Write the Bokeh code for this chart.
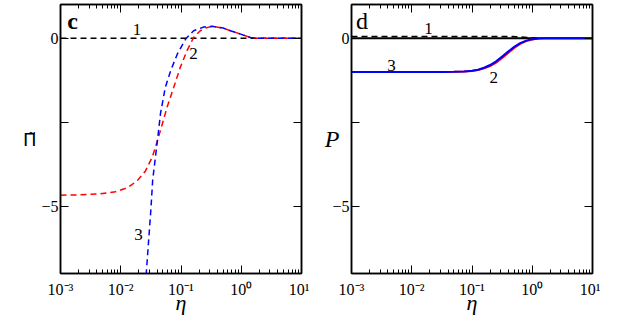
import numpy as np
from bokeh.plotting import figure
from bokeh.layouts import row
from bokeh.models import Range1d, LogAxis, LinearAxis, FixedTicker, CustomJSTickFormatter, Label
from bokeh.embed import file_html
from bokeh.resources import INLINE

# ---------------- data (log10 eta and values) ----------------
# panel c : Pi-tilde
c1_log_eta = [-3.0, 1.0]
c1_pi = [0.0, 0.0]

c2_log_eta = [-3.0, -2.67, -2.34, -2.09, -1.89, -1.73, -1.59, -1.48, -1.42, -1.34, -1.23,
              -1.12, -1.01, -0.90, -0.79, -0.68, -0.58, -0.48, -0.30, -0.18, -0.01, 0.15, 0.25, 1.0]
c2_pi = [-4.67, -4.66, -4.63, -4.57, -4.45, -4.25, -3.95, -3.55, -3.22, -2.74, -2.05,
         -1.46, -0.86, -0.37, 0.02, 0.22, 0.31, 0.35, 0.30, 0.22, 0.12, 0.02, 0.0, 0.0]

c3_log_eta = [-1.585, -1.54, -1.50, -1.47, -1.45, -1.39, -1.34, -1.26, -1.17, -1.06, -0.92,
              -0.79, -0.62, -0.48, -0.30, -0.18, -0.01, 0.15, 0.25, 1.0]
c3_pi = [-7.2, -6.09, -5.10, -4.22, -3.92, -3.03, -2.24, -1.46, -0.96, -0.47, -0.02,
         0.22, 0.33, 0.35, 0.30, 0.22, 0.12, 0.02, 0.0, 0.0]

# panel d : P
d0_log_eta = [-3.0, 1.0]
d0_p = [0.0, 0.0]

d1_log_eta = [-3.0, -0.5, -0.2, 0.0, 0.15, 1.0]
d1_p = [0.05, 0.05, 0.04, 0.01, 0.0, 0.0]

d2_log_eta = [-3.0, -2.0, -1.5, -1.3, -1.13, -1.0, -0.9, -0.8, -0.7, -0.6, -0.5, -0.4, -0.3,
              -0.2, -0.1, 0.0, 0.1, 0.2, 0.3, 1.0]
d2_p = [-1.01, -1.01, -1.005, -1.0, -0.99, -0.975, -0.95, -0.90, -0.83, -0.73, -0.59, -0.44, -0.29,
        -0.17, -0.09, -0.04, -0.013, -0.002, 0.0, 0.0]

d3_log_eta = [-3.0, -2.0, -1.5, -1.3, -1.13, -1.0, -0.9, -0.8, -0.7, -0.6, -0.5, -0.4, -0.3,
              -0.2, -0.1, 0.0, 0.1, 0.2, 0.3, 1.0]
d3_p = [-1.01, -1.01, -1.005, -1.0, -0.99, -0.97, -0.94, -0.88, -0.80, -0.69, -0.55, -0.40, -0.26,
        -0.15, -0.075, -0.03, -0.01, 0.0, 0.0, 0.0]

# curve labels (text, eta, y)
c_label_text = ["1", "2", "3"]
c_label_eta = [0.0186, 0.162, 0.0197]
c_label_y = [0.25, -0.46, -5.84]

d_label_text = ["1", "2", "3"]
d_label_eta = [0.019, 0.23, 0.0046]
d_label_y = [0.28, -1.17, -0.81]

panel_letters = ["c", "d"]
panel_letter_eta = [0.00158, 0.0015]
panel_letter_y = [0.50, 0.52]

x_tick_values = [1e-3, 1e-2, 1e-1, 1e0, 1e1]
x_tick_labels = ["10\u207b\u00b3", "10\u207b\u00b2", "10\u207b\u00b9", "10\u2070", "10\u00b9"]
y_tick_values = [-5, 0]
y_minor_values = [-2.5]

FONT = "Liberation Serif"
RED = "#ff0000"
BLUE = "#0000ff"


def eta(logs):
    return [10.0 ** v for v in logs]


x_minor = [m * 10.0 ** d for d in range(-3, 1) for m in range(2, 10)]


def make_panel(min_left, ylabel, ylabel_font, ylabel_size, ylabel_italic, ylabel_standoff):
    p = figure(x_axis_type="log", x_range=Range1d(1e-3, 10), y_range=Range1d(-7, 1),
               frame_width=241, frame_height=269, min_border_left=min_left,
               min_border_right=8, min_border_top=4, min_border_bottom=0,
               output_backend="svg", toolbar_location=None,
               background_fill_color="white", border_fill_color="white",
               outline_line_color="black", outline_line_width=1.5)
    p.xgrid.visible = False
    p.ygrid.visible = False

    xt = FixedTicker(ticks=x_tick_values, minor_ticks=x_minor)
    yt = FixedTicker(ticks=y_tick_values, minor_ticks=y_minor_values)

    xa = p.xaxis[0]
    xa.ticker = xt
    xa.formatter = CustomJSTickFormatter(args=dict(tvals=x_tick_values, tlabels=x_tick_labels), code="""
        for (let i = 0; i < tvals.length; i++) {
            if (Math.abs(Math.log10(tvals[i]) - Math.log10(tick)) < 1e-6) return tlabels[i];
        }
        return "";
    """)
    ya = p.yaxis[0]
    ya.ticker = yt

    for ax in (xa, ya):
        ax.axis_line_color = "black"
        ax.axis_line_width = 1.5
        ax.major_tick_in = 8
        ax.major_tick_out = 0
        ax.minor_tick_in = 4
        ax.minor_tick_out = 0
        ax.major_tick_line_color = "black"
        ax.minor_tick_line_color = "black"
        ax.major_label_text_font = FONT
        ax.major_label_text_font_size = "16px"
        ax.major_label_text_color = "black"
        ax.axis_label_text_color = "black"
    ya.minor_tick_in = 8
    xa.major_label_standoff = 7
    ya.major_label_standoff = 2

    xa.axis_label = "\u03b7"
    xa.axis_label_text_font = FONT
    xa.axis_label_text_font_size = "22px"
    xa.axis_label_text_font_style = "italic"
    xa.axis_label_standoff = -11

    ya.axis_label = ylabel
    ya.axis_label_text_font = ylabel_font
    ya.axis_label_text_font_size = ylabel_size
    ya.axis_label_text_font_style = "italic" if ylabel_italic else "normal"
    ya.axis_label_orientation = "horizontal"
    ya.axis_label_standoff = ylabel_standoff

    empty = CustomJSTickFormatter(code="return '';")
    top = LogAxis(ticker=xt, formatter=empty, major_label_standoff=0,
                  major_label_text_font_size="0px")
    right = LinearAxis(ticker=yt, formatter=empty, major_label_standoff=0,
                       major_label_text_font_size="0px")
    for ax in (top, right):
        ax.axis_line_color = "black"
        ax.axis_line_width = 1.5
        ax.major_tick_in = 8
        ax.major_tick_out = 0
        ax.minor_tick_in = 4
        ax.minor_tick_out = 0
        ax.major_tick_line_color = "black"
        ax.minor_tick_line_color = "black"
    right.minor_tick_in = 8
    p.add_layout(top, "above")
    p.add_layout(right, "right")
    return p


# ---------------- panel c ----------------
pc = make_panel(60, "\u03a0\u0303", "DejaVu Sans", "18px", False, 2)
pc.line(eta(c1_log_eta), c1_pi, line_color="black", line_width=1.5, line_dash="6 4")
pc.line(eta(c2_log_eta), c2_pi, line_color=RED, line_width=1.5, line_dash="6 4")
pc.line(eta(c3_log_eta), c3_pi, line_color=BLUE, line_width=1.5, line_dash="6 4",
        line_dash_offset=5)
for t, xv, yv in zip(c_label_text, c_label_eta, c_label_y):
    pc.add_layout(Label(x=xv, y=yv, text=t, text_font=FONT, text_font_size="17px",
                        text_align="center", text_baseline="middle", text_color="black"))
pc.add_layout(Label(x=panel_letter_eta[0], y=panel_letter_y[0], text=panel_letters[0],
                    text_font=FONT, text_font_size="24px", text_font_style="bold",
                    text_align="center", text_baseline="middle", text_color="black"))

# ---------------- panel d ----------------
pd_ = make_panel(42, "P", FONT, "24px", True, -10)
pd_.line(eta(d0_log_eta), d0_p, line_color="black", line_width=2)
pd_.line(eta(d1_log_eta), d1_p, line_color="black", line_width=1.5, line_dash="6 4")
pd_.line(eta(d2_log_eta), d2_p, line_color=RED, line_width=2)
pd_.line(eta(d3_log_eta), d3_p, line_color=BLUE, line_width=2)
for t, xv, yv in zip(d_label_text, d_label_eta, d_label_y):
    pd_.add_layout(Label(x=xv, y=yv, text=t, text_font=FONT, text_font_size="17px",
                         text_align="center", text_baseline="middle", text_color="black"))
pd_.add_layout(Label(x=panel_letter_eta[1], y=panel_letter_y[1], text=panel_letters[1],
                     text_font=FONT, text_font_size="24px",
                     text_align="center", text_baseline="middle", text_color="black"))

layout = row(pc, pd_)
open("out.html", "w").write(file_html(layout, INLINE))
